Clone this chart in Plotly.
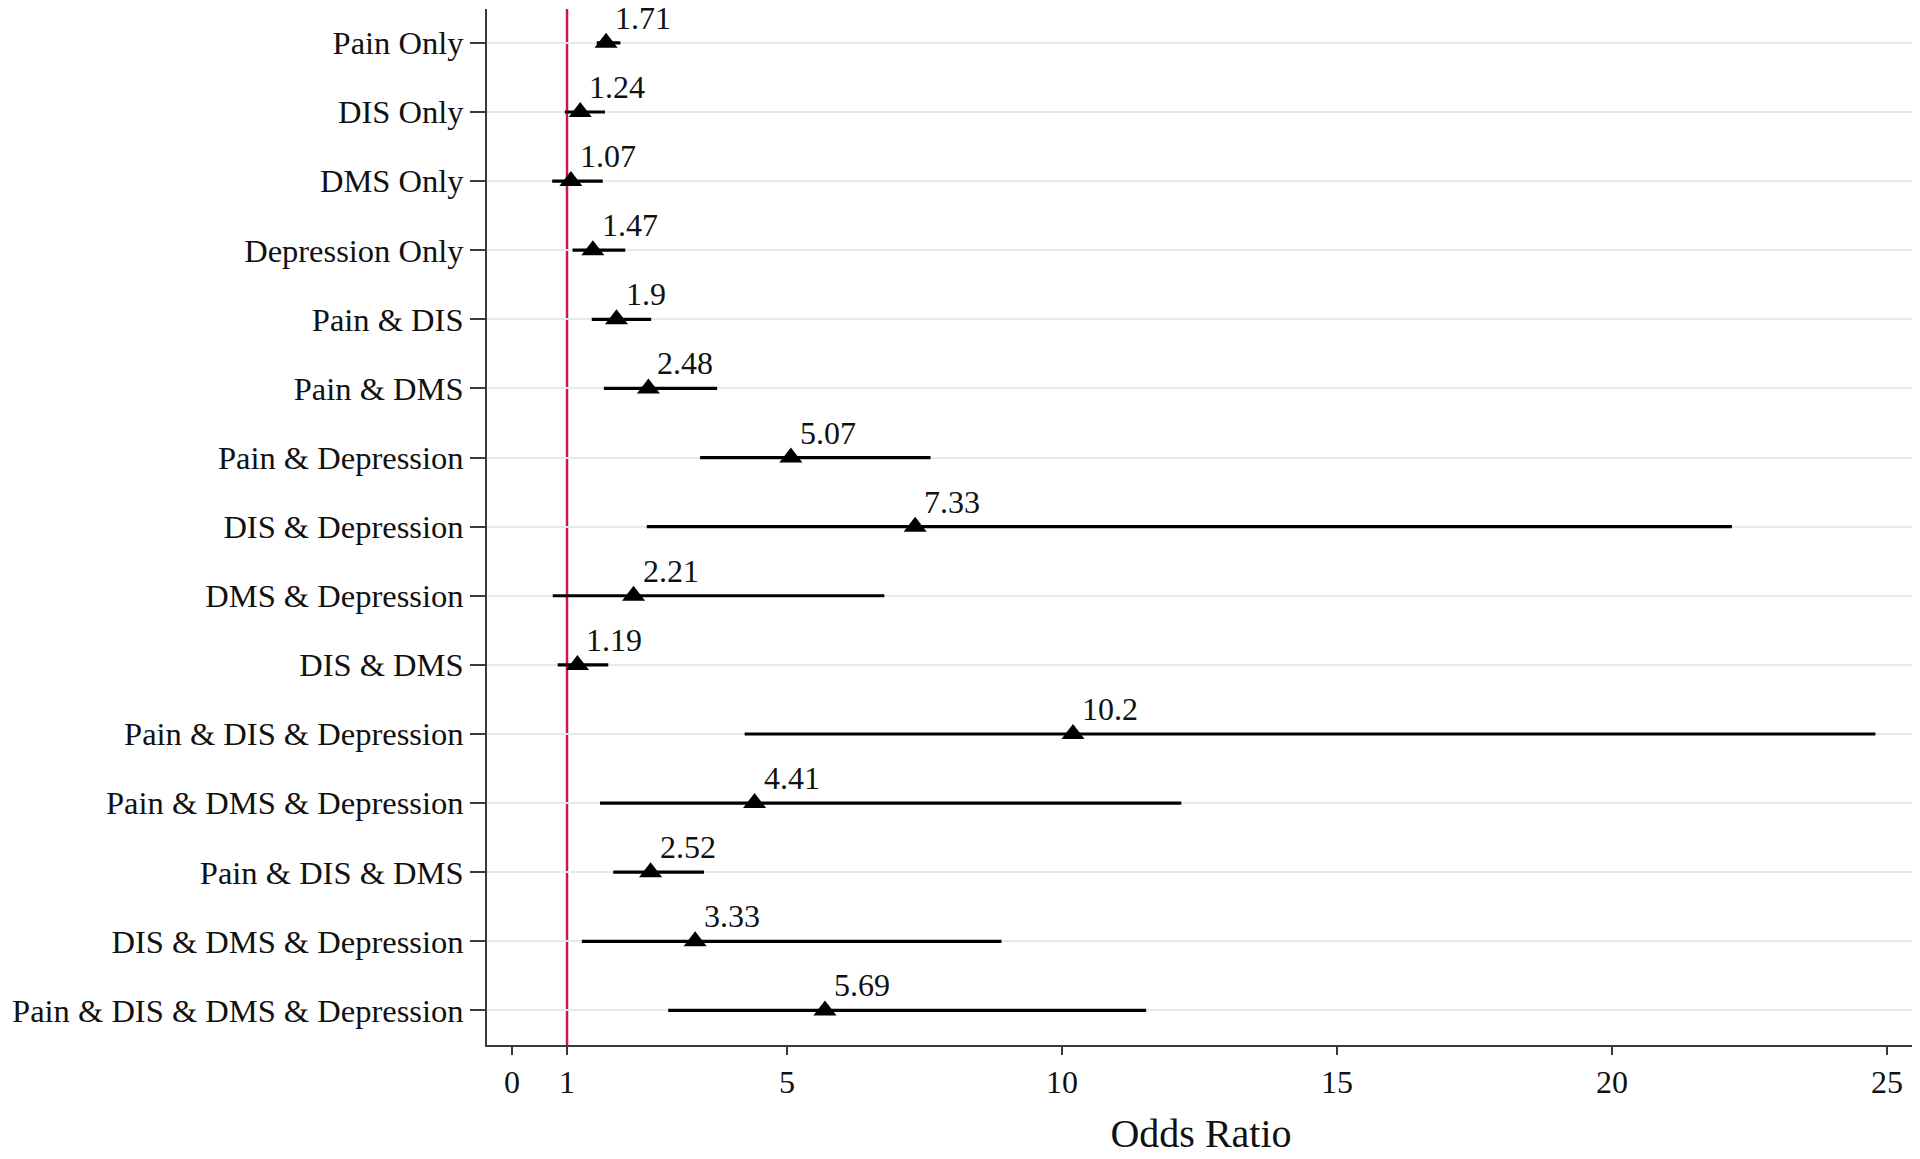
import plotly.graph_objects as go

categories = [
    "Pain Only", "DIS Only", "DMS Only", "Depression Only",
    "Pain & DIS", "Pain & DMS", "Pain & Depression", "DIS & Depression",
    "DMS & Depression", "DIS & DMS", "Pain & DIS & Depression",
    "Pain & DMS & Depression", "Pain & DIS & DMS",
    "DIS & DMS & Depression", "Pain & DIS & DMS & Depression",
]
odds_ratio = [1.71, 1.24, 1.07, 1.47, 1.9, 2.48, 5.07, 7.33, 2.21, 1.19,
              10.2, 4.41, 2.52, 3.33, 5.69]
ci_low = [1.54, 0.96, 0.73, 1.10, 1.45, 1.67, 3.42, 2.45, 0.74, 0.83,
          4.23, 1.60, 1.84, 1.27, 2.84]
ci_high = [1.97, 1.69, 1.65, 2.06, 2.53, 3.73, 7.61, 22.18, 6.77, 1.75,
           24.79, 12.17, 3.49, 8.90, 11.53]
value_labels = ["1.71", "1.24", "1.07", "1.47", "1.9", "2.48", "5.07", "7.33",
                "2.21", "1.19", "10.2", "4.41", "2.52", "3.33", "5.69"]
x_ticks = [0, 1, 5, 10, 15, 20, 25]
reference_value = 1

FONT = "Liberation Serif, Times New Roman, serif"
AXIS_COLOR = "#3a3a3a"

fig = go.Figure()
fig.add_trace(go.Scatter(
    x=odds_ratio,
    y=categories,
    mode="markers",
    marker=dict(symbol="triangle-up", size=20, color="black"),
    error_x=dict(
        type="data", symmetric=False,
        array=[h - o for h, o in zip(ci_high, odds_ratio)],
        arrayminus=[o - l for o, l in zip(odds_ratio, ci_low)],
        color="black", thickness=3.2, width=0,
    ),
    showlegend=False,
    hoverinfo="skip",
))

for o, c, t in zip(odds_ratio, categories, value_labels):
    fig.add_annotation(
        x=o, y=c, text=t, showarrow=False,
        xanchor="left", yanchor="middle", xshift=7, yshift=25,
        font=dict(family=FONT, size=32, color="#111111"),
    )

fig.add_shape(
    type="line", xref="x", yref="paper",
    x0=reference_value, x1=reference_value, y0=0, y1=1,
    line=dict(color="#c8194c", width=2.5), layer="between",
)

fig.update_layout(
    width=1920, height=1159,
    margin=dict(l=479, r=13, t=1, b=122, autoexpand=False),
    paper_bgcolor="white", plot_bgcolor="white",
    font=dict(family=FONT, size=32, color="#111111"),
    xaxis=dict(
        range=[-0.455, 25.51], automargin=False,
        tickmode="array", tickvals=x_ticks, ticktext=[str(v) for v in x_ticks],
        showgrid=False, zeroline=False,
        showline=True, linecolor=AXIS_COLOR, linewidth=2,
        ticks="outside", ticklen=8, tickwidth=2, tickcolor=AXIS_COLOR,
        tickfont=dict(family=FONT, size=32, color="#111111"),
        title=dict(text="Odds Ratio", font=dict(family=FONT, size=40, color="#111111"),
                   standoff=20),
    ),
    yaxis=dict(
        type="category", automargin=False,
        categoryorder="array", categoryarray=categories,
        range=[14.5, -0.49],
        showgrid=True, gridcolor="#e2ecec", gridwidth=2,
        zeroline=False,
        showline=True, linecolor=AXIS_COLOR, linewidth=2,
        ticks="outside", ticklen=15, tickwidth=2, tickcolor=AXIS_COLOR,
        tickfont=dict(family=FONT, size=32.5, color="#111111"),
    ),
)

fig.write_html("out.html")
